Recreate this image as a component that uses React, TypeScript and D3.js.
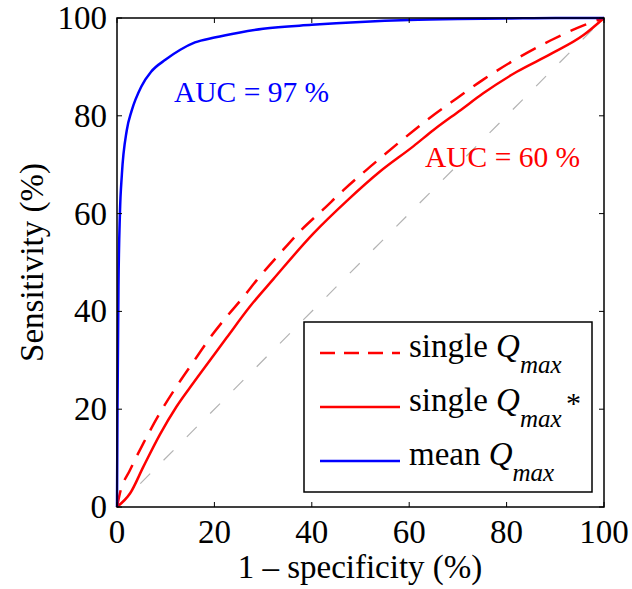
import React from "react";
import * as d3 from "d3";

const xTicks = [0, 20, 40, 60, 80, 100];
const yTicks = [0, 20, 40, 60, 80, 100];

const meanFpr = [0, 0.1, 0.3, 0.6, 1, 2, 3, 5, 7, 10, 13, 16, 20, 25, 30, 40, 50, 60, 70, 80, 90, 100];
const meanTpr = [0, 20, 45, 60, 68, 77, 81, 86, 89, 91.5, 93.5, 95, 96, 97, 97.8, 98.6, 99.2, 99.6, 99.8, 99.9, 100, 100];

const singleStarFpr = [0, 2.7, 5.4, 8.8, 12.2, 15.7, 19.1, 22.5, 27.3, 32.1, 40.3, 47.2, 54, 60.9, 65, 70.6, 75.2, 82.1, 89, 95.8, 100];
const singleStarTpr = [0, 2.8, 8.2, 14.8, 20.5, 25.4, 30, 34.6, 41, 46.6, 55.9, 62.6, 68.6, 73.8, 77.1, 81.2, 84.6, 89, 92.6, 96.5, 100];

const singleFpr = [0, 0.6, 2.7, 5.4, 8.8, 12.2, 15.7, 19.1, 22.5, 26, 28.7, 33.5, 37.6, 42.4, 46.5, 52, 57.5, 63.6, 69.8, 75.2, 82.1, 89, 95.8, 100];
const singleTpr = [0, 2.8, 7.6, 13, 19.2, 24.6, 29.7, 34.6, 38.9, 43, 46.4, 51.9, 56.4, 60.9, 64.8, 69.6, 74.2, 79.1, 83.6, 87.4, 91.7, 95.4, 98.5, 100];

const chanceX = [0, 100];
const chanceY = [0, 100];

const FONT = "'Liberation Serif', 'Times New Roman', serif";

export default function App() {
  const left = 117, right = 604, top = 18, bottom = 507;
  const x = d3.scaleLinear().domain([0, 100]).range([left, right]);
  const y = d3.scaleLinear().domain([0, 100]).range([bottom, top]);
  const line = d3
    .line<[number, number]>()
    .x((d) => x(d[0]))
    .y((d) => y(d[1]))
    .curve(d3.curveMonotoneX);
  const straight = d3
    .line<[number, number]>()
    .x((d) => x(d[0]))
    .y((d) => y(d[1]));

  const zip = (a: number[], b: number[]) => a.map((v, i) => [v, b[i]] as [number, number]);
  const tickLen = 5;

  const legendRows = [
    { y: 353, color: "#ff0000", dash: "15,9", sup: false },
    { y: 407, color: "#ff0000", dash: undefined, sup: true },
    { y: 461, color: "#0000ff", dash: undefined, sup: false },
  ];
  const legendWords = ["single ", "single ", "mean "];

  return (
    <svg
      width={632}
      height={589}
      style={{ position: "absolute", left: 0, top: 0, background: "#fff" }}
      fontFamily={FONT}
    >
      <rect x={0} y={0} width={632} height={589} fill="#fff" />
      <path
        d={straight(zip(chanceX, chanceY)) || ""}
        fill="none"
        stroke="#b3b3b3"
        strokeWidth={1.2}
        strokeDasharray="14,19"
      />
      <path
        d={line(zip(singleFpr, singleTpr)) || ""}
        fill="none"
        stroke="#ff0000"
        strokeWidth={2.5}
        strokeDasharray="17,11"
      />
      <path
        d={line(zip(singleStarFpr, singleStarTpr)) || ""}
        fill="none"
        stroke="#ff0000"
        strokeWidth={2.5}
      />
      <path
        d={line(zip(meanFpr, meanTpr)) || ""}
        fill="none"
        stroke="#0000ff"
        strokeWidth={2.5}
      />
      <rect x={left} y={top} width={right - left} height={bottom - top} fill="none" stroke="#000" strokeWidth={1.5} />
      {xTicks.map((t) => (
        <g key={"x" + t}>
          <line x1={x(t)} x2={x(t)} y1={bottom} y2={bottom - tickLen} stroke="#000" strokeWidth={1} />
          <line x1={x(t)} x2={x(t)} y1={top} y2={top + tickLen} stroke="#000" strokeWidth={1} />
          <text x={x(t)} y={543} textAnchor="middle" fontSize={33}>
            {t}
          </text>
        </g>
      ))}
      {yTicks.map((t) => (
        <g key={"y" + t}>
          <line x1={left} x2={left + tickLen} y1={y(t)} y2={y(t)} stroke="#000" strokeWidth={1} />
          <line x1={right} x2={right - tickLen} y1={y(t)} y2={y(t)} stroke="#000" strokeWidth={1} />
          <text x={107} y={y(t) + 11} textAnchor="end" fontSize={33}>
            {t}
          </text>
        </g>
      ))}
      <text x={360} y={578} textAnchor="middle" fontSize={33}>
        1 – specificity (%)
      </text>
      <text transform={`translate(43,${(top + bottom) / 2}) rotate(-90)`} textAnchor="middle" fontSize={33}>
        Sensitivity (%)
      </text>
      <text x={174} y={102} fontSize={29.5} fill="#0000ff">
        AUC = 97 %
      </text>
      <text x={425} y={167} fontSize={29.5} fill="#ff0000">
        AUC = 60 %
      </text>
      <rect x={304} y={322} width={288} height={170} fill="#fff" stroke="#000" strokeWidth={1.5} />
      {legendRows.map((r, i) => (
        <g key={"lg" + i}>
          <line x1={320} x2={400} y1={r.y} y2={r.y} stroke={r.color} strokeWidth={2.5} strokeDasharray={r.dash} />
          <text x={409} y={r.y + 4} fontSize={33}>
            {legendWords[i]}
            <tspan fontStyle="italic">Q</tspan>
            <tspan fontStyle="italic" fontSize={25} dy={16}>
              max
            </tspan>
          </text>
          {r.sup ? (
            <text x={566} y={r.y + 6} fontSize={30}>
              *
            </text>
          ) : null}
        </g>
      ))}
    </svg>
  );
}
